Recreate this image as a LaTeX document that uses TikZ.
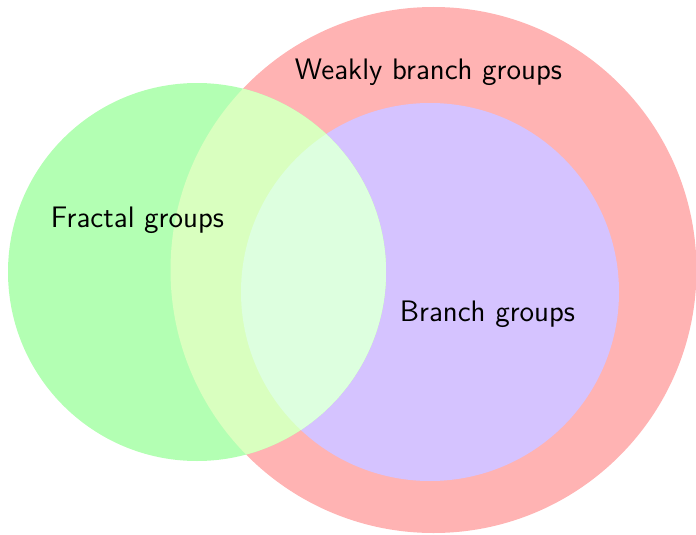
\documentclass[tikz,border=0pt]{standalone}
\usepackage{tikz}
\definecolor{cRed}{HTML}{FFB3B3}
\definecolor{cGreen}{HTML}{B3FFB3}
\definecolor{cPurple}{HTML}{D5C3FF}
\definecolor{cGreenRed}{HTML}{D9FFBF}
\definecolor{cGreenPurple}{HTML}{DDFFDF}
\tikzset{lbl/.style={anchor=base,inner sep=0pt,scale=2.47,transform shape,font=\large\sffamily}}
\begin{document}
\begin{tikzpicture}[x=1pt,y=-1pt]
\useasboundingbox (0,0) rectangle (696,535);
\def\redC{(433.5,270) circle (263)}
\def\purC{(430,292) circle (189)}
\def\grnC{(197,272) circle (189)}
\fill[cRed] \redC;
\fill[cPurple] \purC;
\fill[cGreen] \grnC;
\begin{scope}
  \clip \grnC;
  \fill[cGreenRed] \redC;
  \fill[cGreenPurple] \purC;
\end{scope}
\node[lbl] (weak) at (428.5,79) {Weakly branch groups};
\node[lbl] (fractal) at (137.5,227.5) {Fractal groups};
\node[lbl] (branch) at (487.5,321) {Branch groups};
\end{tikzpicture}
\end{document}
